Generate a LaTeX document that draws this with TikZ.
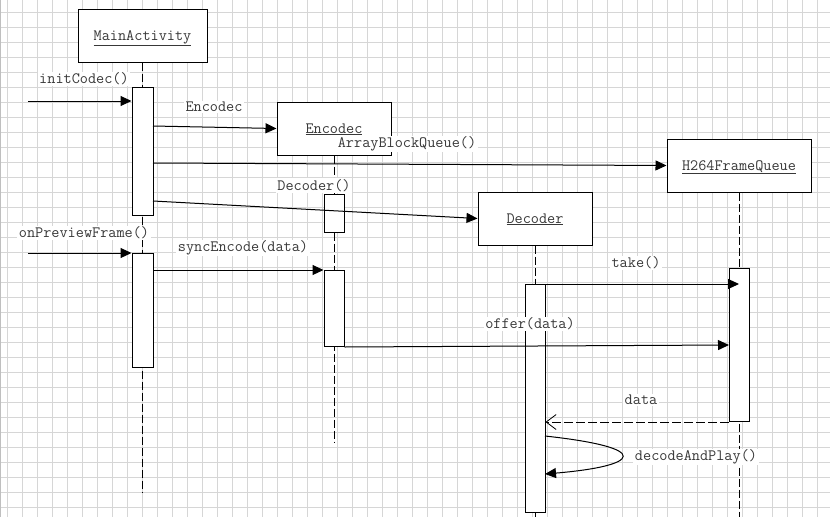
\documentclass[tikz,border=0pt]{standalone}
\usepackage{fontspec}
\usetikzlibrary{arrows.meta,calc}
\begin{document}
\begin{tikzpicture}[x=1pt,y=-1pt,
  gridline/.style={draw=black!16,line width=0.8pt},
  txt/.style={font=\ttfamily\fontsize{15.8}{18}\selectfont,text=black!78},
  lbl/.style={txt,fill=white,inner xsep=1.5pt,inner ysep=1pt,yshift=-2pt},
  obj/.style={txt,draw,line width=1pt,fill=white,minimum height=53pt,inner sep=0pt,text height=9pt,text depth=0pt},
  act/.style={draw,line width=1pt,fill=white,minimum width=20pt,inner sep=0pt,anchor=north},
  life/.style={line width=1pt,dash pattern=on 8pt off 3pt},
  msg/.style={line width=1pt,-{Triangle[length=11pt,width=10pt]}},
  ret/.style={line width=1pt,dash pattern=on 9pt off 3pt,-{Straight Barb[length=10pt,width=15pt,line width=0.8pt]}}
]
\useasboundingbox (0,0) rectangle (830,517);
\fill[white] (0,0) rectangle (830,517);
% grid
\foreach \x in {7.5,22.5,...,830} \draw[gridline] (\x,0) -- (\x,517);
\foreach \y in {12,27,...,517} \draw[gridline] (0,\y) -- (830,\y);
\draw[draw=black!25,line width=1pt] (0.5,0) -- (0.5,517);

% objects
\node[obj,minimum width=129pt] (ma) at (142.5,35.5) {\underline{MainActivity}};
\node[obj,minimum width=114pt] (enc) at (334,128.5) {\underline{Encodec}};
\node[obj,minimum width=144pt] (h264) at (739,165.5) {\underline{H264FrameQueue}};
\node[obj,minimum width=114pt] (dec) at (535,218.5) {\underline{Decoder}};

% lifelines
\coordinate (maend) at (142.5,492);
\coordinate (encend) at (334,443);
\coordinate (decend) at (535,517);
\coordinate (h264end) at (739,517);
\draw[life] (ma.south) -- (maend);
\draw[life] (enc.south) -- (encend);
\draw[life] (dec.south) -- (decend);
\draw[life] (h264.south) -- (h264end);

% activations
\node[act,minimum width=21pt,minimum height=128pt] (a1) at (142.5,87) {};
\node[act,minimum height=38pt] (e1) at (334,194) {};
\node[act,minimum width=21pt,minimum height=114pt] (a2) at (142.5,253) {};
\node[act,minimum height=76pt] (e2) at (334,270) {};
\node[act,minimum height=228pt] (d1) at (535,284) {};
\node[act,minimum height=153pt] (h1) at (739,268) {};

% messages
\coordinate (s1) at (28,101);
\coordinate (s2) at (28,253);
\coordinate (m2s) at (153,126);
\coordinate (m3s) at (153,163);
\coordinate (m4s) at (153,201);
\coordinate (m8e) at (729,345);
\coordinate (selfs) at (545,436);
\coordinate (selfe) at (545,474);

\draw[msg] (s1) -- (s1 -| a1.west);
\draw[msg] (m2s) -- (enc.west);
\draw[msg] (m3s) -- (h264.west);
\draw[msg] (m4s) -- (dec.west);
\draw[msg] (s2) -- (a2.north west);
\draw[msg] (a2.east |- e2.north) -- (e2.north west);
\draw[msg] (d1.north east) -- (h1.north |- d1.north);
\draw[msg] (e2.south east) -- (m8e);
\draw[ret] (h1.south west) -- (d1.east |- h1.south);
\draw[msg] (selfs) .. controls (655,448) and (640,466) .. (selfe);

% labels
\node[lbl] (l1) at (84,77) {initCodec()};
\node[lbl] (l2) at (214,105) {Encodec};
\node[lbl] (l3) at (407,142) {ArrayBlockQueue()};
\node[lbl] (l4) at (314,183.5) {Decoder()};
\node[lbl] (l5) at (84,231) {onPreviewFrame()};
\node[lbl] (l6) at (243,246) {syncEncode(data)};
\node[lbl] (l7) at (636,261) {take()};
\node[lbl] (l8) at (530,322) {offer(data)};
\node[lbl] (l9) at (641,398) {data};
\node[lbl] (l10) at (696,455) {decodeAndPlay()};
\end{tikzpicture}
\end{document}
